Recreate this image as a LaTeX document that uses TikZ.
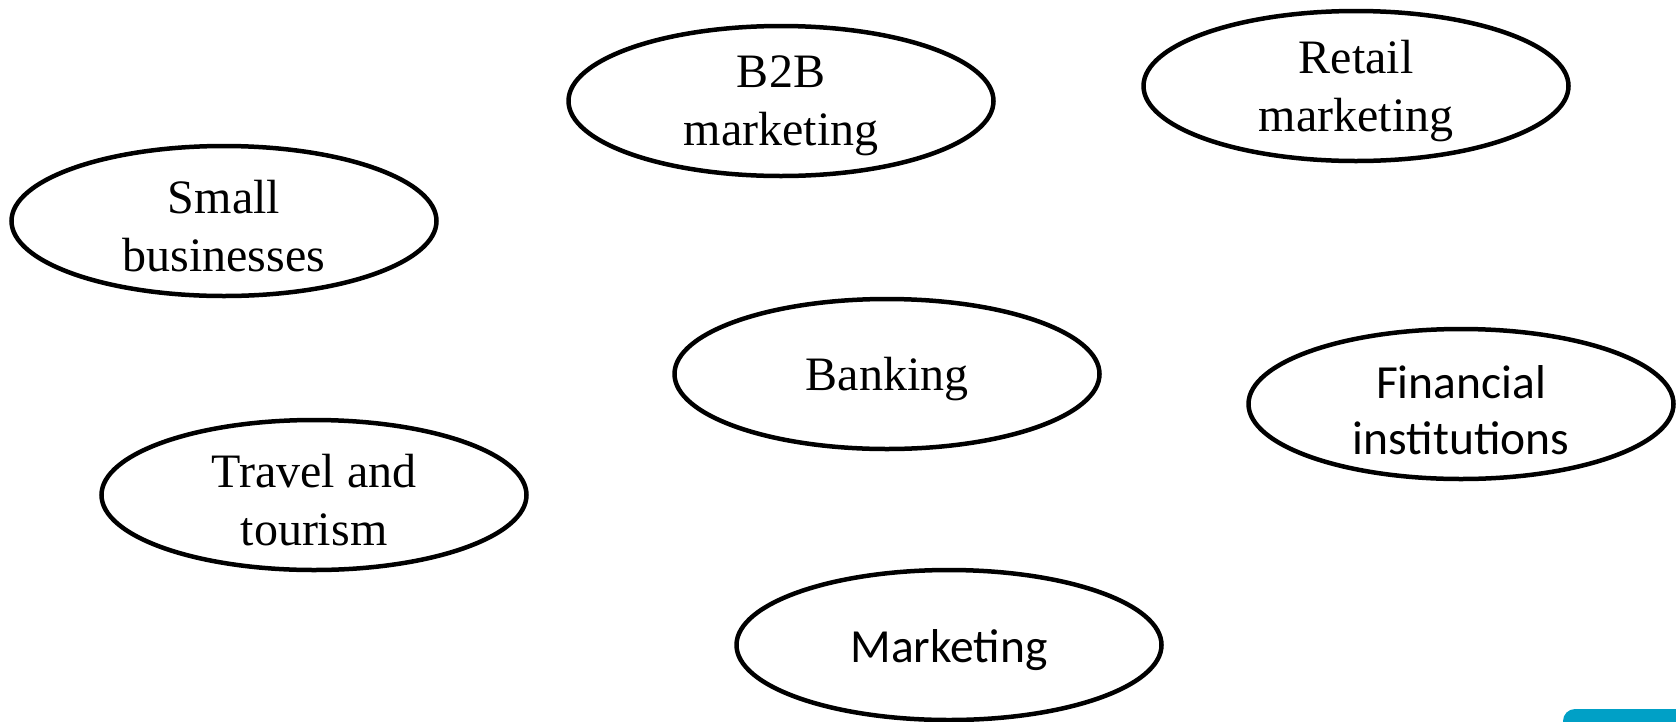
\documentclass[tikz,border=0pt]{standalone}
\usepackage{fontspec}
\setmainfont{Liberation Serif}
\newfontfamily\calibri{Carlito}
\usetikzlibrary{shapes.geometric}
\definecolor{tealbar}{HTML}{00A0C6}
\begin{document}
\begin{tikzpicture}[x=1pt,y=-1pt,
  oval/.style={draw=black,line width=4.5pt,ellipse,minimum width=425pt,minimum height=150pt,inner sep=0pt},
  lbl/.style={inner sep=0pt,align=center,font=\fontsize{48}{58}\selectfont},
  lblsans/.style={lbl,font=\calibri\fontsize{47.5}{56}\selectfont}]
\useasboundingbox (0,0) rectangle (1676,721);
\node[oval] (b2b) at (781,101) {};
\node[oval] (retail) at (1356,86) {};
\node[oval] (small) at (224,221) {};
\node[oval] (banking) at (887,374) {};
\node[oval] (fin) at (1461,404) {};
\node[oval] (travel) at (314,495) {};
\node[oval] (mkt) at (949,645) {};
\node[lbl] (b2b-t) at ([yshift=-5pt]b2b.center) {B2B\\marketing};
\node[lbl] (retail-t) at ([yshift=-5pt]retail.center) {Retail\\marketing};
\node[lbl] (small-t) at ([yshift=-5pt]small.center) {Small\\businesses};
\node[lbl] (banking-t) at ([yshift=-5pt]banking.center) {Banking};
\node[lblsans] (fin-t) at ([yshift=-6pt]fin.center) {Financial\\institutions};
\node[lbl] (travel-t) at ([yshift=-5pt]travel.center) {Travel and\\tourism};
\node[lblsans] (mkt-t) at ([yshift=-5pt]mkt.center) {Marketing};
\fill[tealbar,rounded corners=12pt] (1563,709) rectangle (1700,740);
\end{tikzpicture}
\end{document}
